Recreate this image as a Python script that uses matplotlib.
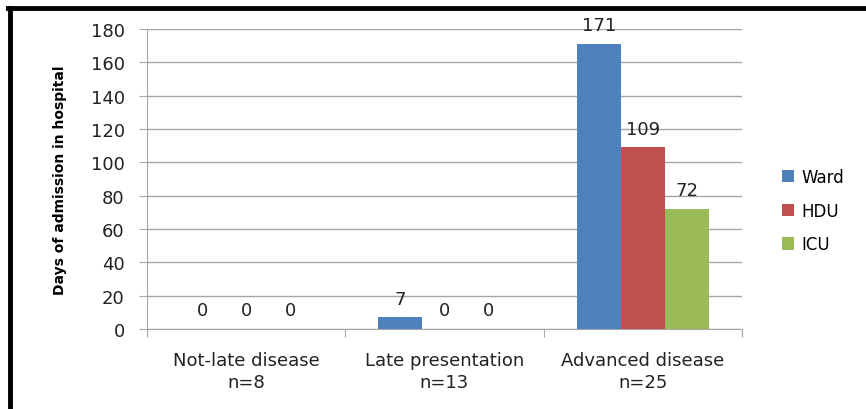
import numpy as np
import matplotlib.pyplot as plt
from matplotlib.lines import Line2D

categories = ["Not-late disease\nn=8", "Late presentation\nn=13", "Advanced disease\nn=25"]
series_names = ["Ward", "HDU", "ICU"]
ward = [0, 7, 171]
hdu = [0, 0, 109]
icu = [0, 0, 72]
colors = ["#4F81BD", "#C0504D", "#9BBB59"]

fig = plt.figure(figsize=(8.66, 4.10), dpi=100)
ax = fig.add_axes([0.1697, 0.195, 0.687, 0.732])

x = np.arange(len(categories))
width = 0.222
for i, (name, vals) in enumerate(zip(series_names, [ward, hdu, icu])):
    pos = x + (i - 1) * width
    bars = ax.bar(pos, vals, width, color=colors[i], label=name, zorder=3)
    for b, v in zip(bars, vals):
        ax.annotate(str(v), (b.get_x() + b.get_width() / 2, v),
                    xytext=(0, 7), textcoords="offset points",
                    ha="center", va="bottom", fontsize=13, color="#222222")

ax.set_xlim(-0.5, 2.5)
ax.set_ylim(0, 180)
ax.set_yticks(np.arange(0, 181, 20))
ax.yaxis.grid(True, color="#a6a6a6", linewidth=1, zorder=0)
ax.set_axisbelow(True)

# group separators as major ticks, category names as minor tick labels
ax.set_xticks([-0.5, 0.5, 1.5, 2.5])
ax.set_xticklabels([])
ax.set_xticks(x, minor=True)
ax.set_xticklabels(categories, minor=True, fontsize=13, color="#222222", linespacing=1.25)
ax.tick_params(axis="x", which="minor", length=0, pad=16)
ax.tick_params(axis="x", which="major", length=6, color="#a6a6a6", direction="out")
ax.tick_params(axis="y", length=6, color="#a6a6a6", labelsize=13, labelcolor="#222222", pad=10)

for s in ["top", "right"]:
    ax.spines[s].set_visible(False)
for s in ["left", "bottom"]:
    ax.spines[s].set_color("#a6a6a6")

ax.set_ylabel("Days of admission in hospital", fontsize=10, fontweight="bold",
              labelpad=17)

ax.legend(loc="center left", bbox_to_anchor=(1.042, 0.395), frameon=False,
          fontsize=12, handlelength=0.75, handleheight=0.75, labelspacing=0.95,
          handletextpad=0.4)

# black frame on left and top
fig.add_artist(Line2D([0.0115, 0.0115], [0.0, 1 - 8.5 / 410], transform=fig.transFigure,
                      color="black", linewidth=3.5))
fig.add_artist(Line2D([0.0095, 1.0], [1 - 8.5 / 410, 1 - 8.5 / 410], transform=fig.transFigure,
                      color="black", linewidth=3.5))

fig.savefig("out.png", dpi=100)
